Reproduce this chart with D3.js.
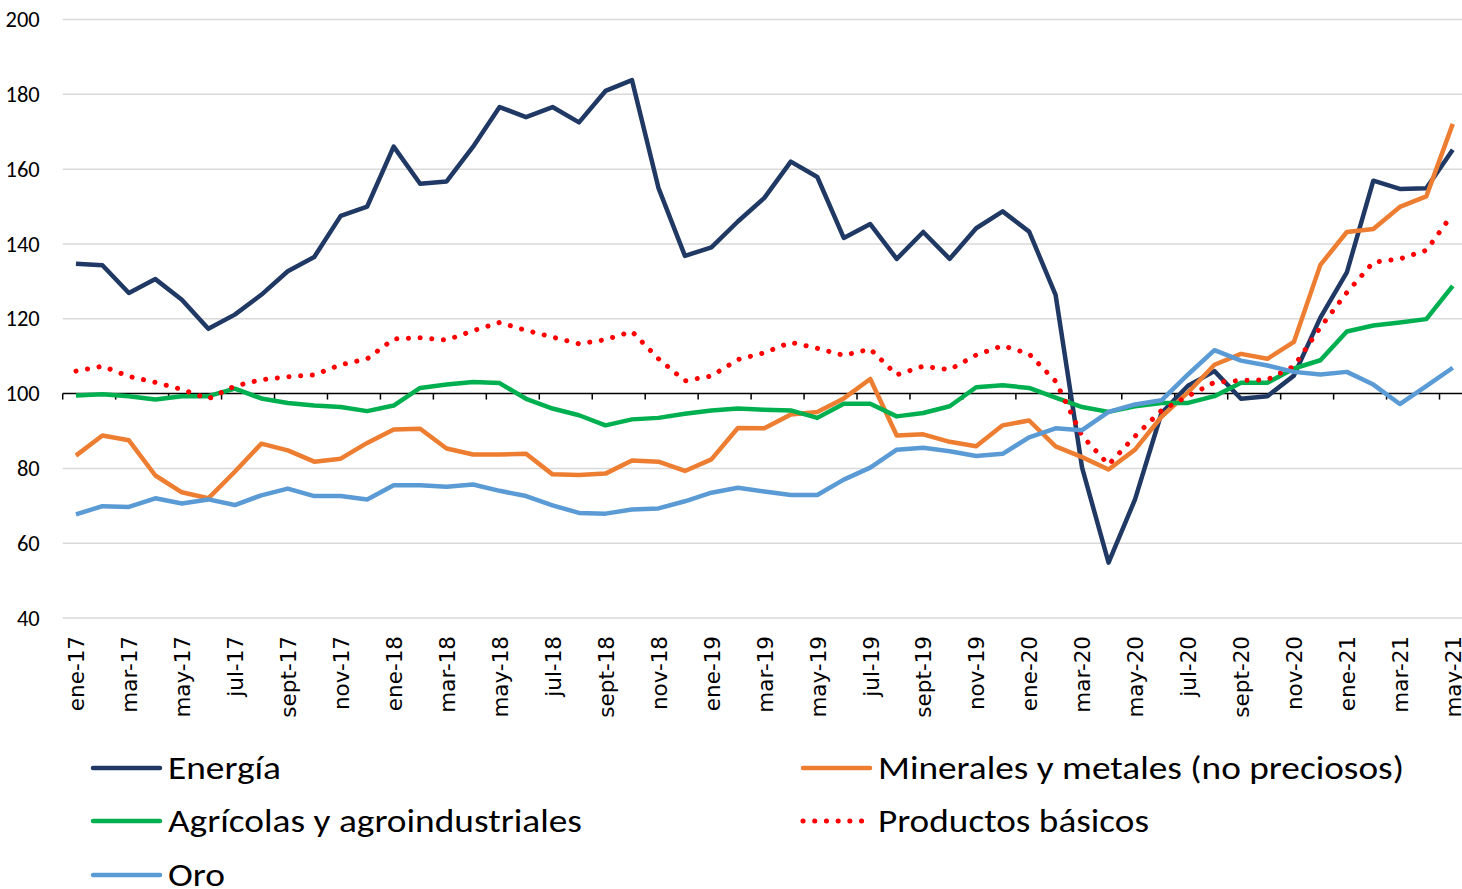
<!DOCTYPE html>
<html>
<head>
<meta charset="utf-8">
<script src="https://cdnjs.cloudflare.com/ajax/libs/d3/7.8.5/d3.min.js"></script>
<style>
  body { margin: 0; background: #fff; }
  svg { display: block; }
</style>
</head>
<body>
<script>
// months ene-17 .. may-21
var mesesCortos = ["ene", "feb", "mar", "abr", "may", "jun", "jul", "ago", "sept", "oct", "nov", "dic"];
var meses = [];
for (var a = 17; a <= 21; a++) {
    for (var m = 0; m < 12; m++) {
        if (a === 21 && m > 4) break;
        meses.push(mesesCortos[m] + "-" + a);
    }
}

var energia = [134.7, 134.3, 126.9, 130.6, 125.1, 117.3, 121.1, 126.4, 132.7, 136.5,
    147.5, 150.0, 166.0, 156.1, 156.7, 166.0, 176.6, 173.9, 176.6, 172.5,
    180.9, 183.8, 155.0, 136.8, 139.1, 146.0, 152.3, 162.0, 157.9, 141.6,
    145.3, 136.0, 143.2, 136.0, 144.2, 148.7, 143.3, 126.4, 80.2, 54.8,
    71.7, 94.8, 102.1, 106.0, 98.6, 99.3, 104.8, 120.3, 132.4, 156.9,
    154.7, 154.9, 165.2];

var minerales = [83.4, 88.8, 87.5, 78.1, 73.6, 72.0, 79.1, 86.6, 84.8, 81.8,
    82.6, 86.8, 90.4, 90.6, 85.3, 83.7, 83.7, 83.9, 78.4, 78.2,
    78.6, 82.1, 81.8, 79.3, 82.4, 90.8, 90.7, 94.4, 95.1, 98.7,
    103.9, 88.8, 89.1, 87.1, 85.9, 91.5, 92.8, 85.9, 83.0, 79.7,
    85.0, 93.8, 100.3, 107.7, 110.6, 109.3, 113.8, 134.4, 143.2, 144.0,
    149.9, 152.7, 172.1];

var agricolas = [99.5, 99.8, 99.3, 98.4, 99.3, 99.3, 101.3, 98.7, 97.5, 96.8,
    96.4, 95.3, 96.8, 101.5, 102.4, 103.1, 102.8, 98.6, 96.0, 94.2,
    91.5, 93.1, 93.5, 94.6, 95.5, 96.0, 95.7, 95.5, 93.5, 97.3,
    97.3, 93.9, 94.8, 96.6, 101.7, 102.2, 101.5, 98.9, 96.4, 95.1,
    96.6, 97.5, 97.5, 99.3, 102.9, 102.9, 106.7, 108.9, 116.6, 118.2,
    119.0, 119.9, 128.8];

var productos = [106.0, 107.3, 104.6, 103.0, 101.1, 98.6, 102.0, 103.7, 104.5, 105.0,
    107.7, 109.3, 114.6, 114.9, 114.3, 116.8, 119.0, 116.9, 115.1, 113.3,
    114.4, 116.6, 109.3, 103.4, 104.7, 109.1, 110.9, 113.7, 112.1, 110.2,
    111.9, 105.0, 107.3, 106.4, 110.3, 112.8, 110.6, 103.3, 88.7, 81.0,
    88.6, 95.5, 99.3, 103.0, 103.5, 103.7, 107.3, 117.7, 127.0, 135.1,
    136.0, 138.3, 148.0];

var oro = [67.7, 69.9, 69.7, 72.0, 70.6, 71.7, 70.2, 72.8, 74.6, 72.6,
    72.6, 71.7, 75.5, 75.5, 75.1, 75.7, 74.0, 72.6, 70.1, 68.1,
    67.9, 69.0, 69.3, 71.2, 73.5, 74.8, 73.8, 72.9, 72.9, 77.0,
    80.2, 85.0, 85.5, 84.6, 83.3, 83.9, 88.3, 90.7, 90.2, 95.1,
    97.1, 98.2, 105.1, 111.6, 108.8, 107.5, 105.8, 105.1, 105.8, 102.4,
    97.2, 102.0, 106.9];

var yTicks = [40, 60, 80, 100, 120, 140, 160, 180, 200];

// series, in the order Excel draws them
var series = [
    { nombre: "Energía", valores: energia, color: "#203864", punteada: false },
    { nombre: "Minerales y metales (no preciosos)", valores: minerales, color: "#ED7D31", punteada: false },
    { nombre: "Agrícolas y agroindustriales", valores: agricolas, color: "#00B050", punteada: false },
    { nombre: "Productos básicos", valores: productos, color: "#FF0000", punteada: true },
    { nombre: "Oro", valores: oro, color: "#5B9BD5", punteada: false }
];

var width = 1462, height = 889;
var plotLeft = 62.7, plotRight = 1466, plotTop = 19.5, plotBottom = 618;

var svg = d3.select("body")
    .append("svg")
    .attr("width", width)
    .attr("height", height);

var x = d3.scalePoint()
    .domain(meses)
    .range([plotLeft, plotRight])
    .padding(0.5);
var step = x.step();

var y = d3.scaleLinear()
    .domain([40, 200])
    .range([plotBottom, plotTop]);

// gridlines
svg.append("g")
    .selectAll("line")
    .data(yTicks.filter(function(d){ return d !== 100; }))
    .enter()
    .append("line")
    .attr("x1", plotLeft)
    .attr("x2", plotRight)
    .attr("y1", function(d){ return y(d); })
    .attr("y2", function(d){ return y(d); })
    .attr("stroke", "#d9d9d9")
    .attr("stroke-width", 1.5);

// y labels
var yAxis = svg.append("g")
    .attr("transform", "translate(" + plotLeft + ",0)")
    .call(d3.axisLeft(y).tickValues(yTicks).tickSize(0).tickPadding(23));
yAxis.select(".domain").remove();
yAxis.selectAll("text")
    .attr("font-family", "Carlito, Lato, sans-serif")
    .attr("font-size", 22.5)
    .attr("fill", "#000");

// horizontal axis line at 100 with tick marks every 2 months
svg.append("line")
    .attr("x1", plotLeft)
    .attr("x2", plotRight)
    .attr("y1", y(100))
    .attr("y2", y(100))
    .attr("stroke", "#000")
    .attr("stroke-width", 1.5);

var tickMeses = meses.filter(function(d, i){ return i % 2 === 0; });
svg.append("g")
    .selectAll("line")
    .data(tickMeses)
    .enter()
    .append("line")
    .attr("x1", function(d){ return x(d) - step / 2; })
    .attr("x2", function(d){ return x(d) - step / 2; })
    .attr("y1", y(100))
    .attr("y2", y(100) + 6)
    .attr("stroke", "#000")
    .attr("stroke-width", 1.5);

// month labels at the bottom, rotated
var xAxis = svg.append("g")
    .attr("transform", "translate(0,636)")
    .call(d3.axisBottom(x).tickValues(tickMeses).tickSize(0));
xAxis.select(".domain").remove();
xAxis.selectAll("text")
    .attr("transform", "rotate(-90)")
    .attr("x", 0)
    .attr("y", 0)
    .attr("dy", "0.36em")
    .style("text-anchor", "end")
    .attr("font-family", "DejaVu Sans, sans-serif")
    .attr("font-size", 21.5)
    .attr("fill", "#000");

// lines
var line = d3.line()
    .x(function(d, i){ return x(meses[i]); })
    .y(function(d){ return y(d); });

svg.append("g")
    .selectAll("path")
    .data(series)
    .enter()
    .append("path")
    .attr("d", function(d){ return line(d.valores); })
    .attr("fill", "none")
    .attr("stroke", function(d){ return d.color; })
    .attr("stroke-width", function(d){ return d.punteada ? 5 : 4.5; })
    .attr("stroke-linejoin", "round")
    .attr("stroke-linecap", function(d){ return d.punteada ? "round" : "butt"; })
    .attr("stroke-dasharray", function(d){ return d.punteada ? "0.1 11.6" : null; });

// legend
var leyenda = [
    { s: series[0], lx: 93, ly: 768, tw: 113 },
    { s: series[1], lx: 803, ly: 768, tw: 526 },
    { s: series[2], lx: 93, ly: 821, tw: 414 },
    { s: series[3], lx: 803, ly: 821, tw: 271 },
    { s: series[4], lx: 93, ly: 875, tw: 57 }
];

var items = svg.append("g")
    .selectAll("g")
    .data(leyenda)
    .enter()
    .append("g");

items.append("line")
    .attr("x1", function(d){ return d.lx; })
    .attr("x2", function(d){ return d.lx + 67; })
    .attr("y1", function(d){ return d.ly; })
    .attr("y2", function(d){ return d.ly; })
    .attr("stroke", function(d){ return d.s.color; })
    .attr("stroke-width", function(d){ return d.s.punteada ? 5 : 4.5; })
    .attr("stroke-linecap", "round")
    .attr("stroke-dasharray", function(d){ return d.s.punteada ? "0.1 11.6" : null; });

items.append("text")
    .attr("x", function(d){ return d.lx + 75; })
    .attr("y", function(d){ return d.ly + 11; })
    .attr("font-family", "Carlito, Lato, sans-serif")
    .attr("font-size", 33)
    .attr("fill", "#000")
    .attr("textLength", function(d){ return d.tw; })
    .attr("lengthAdjust", "spacingAndGlyphs")
    .text(function(d){ return d.s.nombre; });
</script>
</body>
</html>
